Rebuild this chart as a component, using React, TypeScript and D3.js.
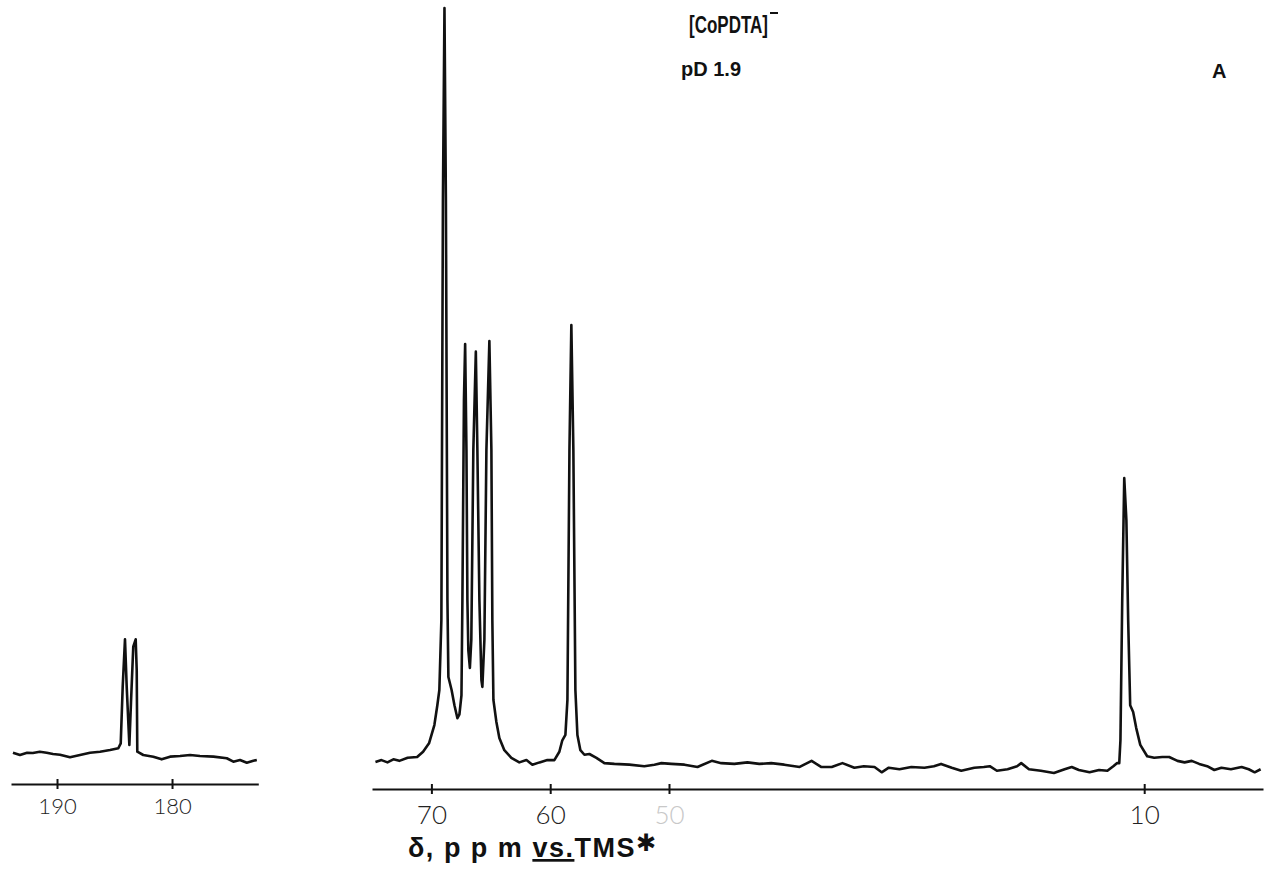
import React, { useEffect, useRef } from 'react';
import * as d3 from 'd3';

// carbonyl region (left inset), ppm vs TMS and relative intensity
const carbonylPpm = [
  193.83, 193.22, 192.6, 192.1, 191.5, 190.9, 190.35, 189.74, 188.87, 188.0, 187.13, 186.26,
  185.39, 184.67, 184.46, 184.29, 184.09, 183.94, 183.71, 183.57, 183.37, 183.16, 183.07,
  183.02, 182.5, 181.63, 180.9, 180.17, 179.3, 178.43, 177.57, 176.4, 175.24, 174.67, 174.09,
  173.5, 172.93, 172.63,
];
const carbonylIntensity = [
  2.27, 1.97, 2.27, 2.23, 2.4, 2.27, 2.1, 2.0, 1.67, 1.97, 2.27, 2.4,
  2.62, 2.85, 3.5, 10.9, 17.15, 10.9, 3.28, 8.8, 16.2, 17.15, 13.1,
  2.4, 1.97, 1.75, 1.4, 1.75, 1.84, 1.97, 1.84, 1.75, 1.54, 1.09,
  1.31, 0.96, 1.22, 1.31,
];

// aliphatic region (main trace)
const aliphaticPpm = [
  74.71, 74.2, 73.7, 73.2, 72.7, 72.0, 71.2, 70.7, 70.2, 69.75, 69.5, 69.33, 69.16, 69.03,
  68.9, 68.78, 68.65, 68.57, 68.3, 68.06, 67.81, 67.64, 67.47, 67.39, 67.26, 67.16, 67.05,
  66.97, 66.89, 66.76, 66.64, 66.47, 66.26, 66.13, 65.96, 65.79, 65.71, 65.54, 65.37, 65.12,
  64.95, 64.87, 64.78, 64.53, 64.28, 63.86, 63.27, 62.6, 62.0, 61.5, 60.9, 60.24, 59.65,
  59.23, 58.98, 58.72, 58.55, 58.38, 58.22, 58.05, 57.88, 57.71, 57.46, 57.12, 56.7, 56.11,
  55.44, 54.6, 53.34, 52.08, 51.23, 50.64, 49.8, 48.7, 47.6, 46.4, 45.6, 44.5, 43.4, 42.4,
  41.4, 40.3, 39.0, 38.0, 37.2, 36.3, 35.4, 34.4, 33.6, 32.7, 32.1, 31.5, 30.6, 29.6, 28.5,
  27.7, 27.1, 26.2, 25.4, 24.3, 23.5, 23.0, 22.4, 21.5, 20.7, 20.35, 19.7, 18.7, 17.6, 16.7,
  16.1, 15.5, 14.6, 13.8, 13.1, 12.6, 12.3, 12.1, 12.0, 11.85, 11.68, 11.5, 11.35, 11.18,
  10.93, 10.67, 10.33, 9.75, 9.16, 8.48, 7.9, 7.2, 6.6, 6.0, 5.37, 4.7, 4.1, 3.5, 2.7, 1.8,
  1.2, 0.7, 0.2,
];
const aliphaticIntensity = [
  1.05, 1.3, 1.0, 1.4, 1.2, 1.6, 1.7, 2.4, 3.5, 5.9, 8.5, 10.5, 19.7, 74.8,
  100, 74.8, 22.3, 12.2, 10.5, 8.5, 6.8, 7.3, 9.8, 22.3, 48.6, 55.9, 42.0,
  22.3, 15.7, 13.4, 17.1, 42.0, 54.9, 42.0, 22.3, 11.8, 10.9, 17.1, 42.0, 56.3,
  42.0, 19.7, 9.2, 6.3, 4.2, 2.6, 1.6, 1.0, 1.3, 0.7, 1.0, 1.3, 1.3,
  2.4, 3.9, 4.6, 9.2, 42.0, 58.4, 42.0, 10.5, 4.6, 2.6, 2.0, 2.1, 1.6,
  0.9, 0.8, 0.7, 0.5, 0.7, 0.9, 0.8, 0.7, 0.4, 1.2, 0.9, 0.8, 1.0, 0.8,
  0.9, 0.7, 0.4, 1.2, 0.4, 0.4, 0.9, 0.3, 0.5, 0.4, -0.3, 0.3, 0.1, 0.4, 0.3,
  0.5, 0.8, 0.3, -0.1, 0.3, 0.4, 0.5, -0.1, 0.1, 0.5, 0.9, 0.1, -0.1, -0.4, 0.1,
  0.4, 0.0, -0.3, 0.0, -0.1, 0.5, 0.9, 0.9, 3.9, 22.3, 38.3, 32.8, 19.7, 8.5,
  7.6, 5.5, 3.3, 1.8, 1.6, 1.7, 1.7, 1.2, 1.0, 1.2, 0.8, 0.5, 0.0, 0.3, 0.1, 0.4,
  0.1, -0.3, 0.1,
];

const carbonylTicks = [190, 180];
const aliphaticTicks = [70, 60, 50, 10];
const faintTicks = [50];

const W = 1270;
const H = 869;

export default function App() {
  const svgRef = useRef<SVGSVGElement>(null);

  useEffect(() => {
    if (!svgRef.current) return;
    const svg = d3.select(svgRef.current);
    svg.selectAll('*').remove();

    const y = d3.scaleLinear().domain([0, 100]).range([770, 8]);
    const xMain = d3.scaleLinear().domain([75, 0]).range([372, 1263]);
    const xCarb = d3.scaleLinear().domain([194, 172.5]).range([11, 258.3]);

    const line = (x: d3.ScaleLinear<number, number>) =>
      d3.line<[number, number]>()
        .x(d => x(d[0]))
        .y(d => y(d[1]));

    const carbData = carbonylPpm.map((p, i) => [p, carbonylIntensity[i]] as [number, number]);
    const mainData = aliphaticPpm.map((p, i) => [p, aliphaticIntensity[i]] as [number, number]);

    // traces
    [[carbData, xCarb], [mainData, xMain]].forEach(([data, x]: any) => {
      svg.append('path')
        .datum(data)
        .attr('fill', 'none')
        .attr('stroke', '#111')
        .attr('stroke-width', 2.6)
        .attr('stroke-linejoin', 'round')
        .attr('d', line(x));
    });

    // axes
    const drawAxis = (x: d3.ScaleLinear<number, number>, ticks: number[], yPos: number, size: number, pad: number) => {
      const g = svg.append('g')
        .attr('transform', `translate(0,${yPos})`)
        .call(d3.axisBottom(x).tickValues(ticks).tickSizeInner(4).tickSizeOuter(0).tickPadding(pad)
          .tickFormat(d => String(d)));
      g.select('.domain').attr('stroke', '#111').attr('stroke-width', 2);
      g.selectAll('.tick line').attr('stroke', '#111').attr('stroke-width', 2).attr('y1', -5).attr('y2', 5);
      g.selectAll<SVGTextElement, number>('.tick text')
        .attr('font-family', 'Lato, "DejaVu Sans", sans-serif')
        .attr('font-weight', 300)
        .attr('font-size', size)
        .attr('fill', d => (faintTicks.includes(d) ? '#c8c8c8' : '#222'));
    };
    drawAxis(xCarb, carbonylTicks, 784, 22, 10);
    drawAxis(xMain, aliphaticTicks, 789, 26, 13);
  }, []);

  return (
    <div style={{ position: 'absolute', left: 0, top: 0, background: '#fff' }}>
      <svg ref={svgRef} width={W} height={H} style={{ display: 'block' }} />
      <svg width={W} height={H} style={{ position: 'absolute', left: 0, top: 0 }}
        fontFamily='"Liberation Sans", Arial, sans-serif' fontWeight="bold" fill="#111">
        <text x={689} y={33} fontSize={24} textLength={79} lengthAdjust="spacingAndGlyphs">[CoPDTA]</text>
        <line x1={770} x2={778} y1={13} y2={13} stroke="#111" strokeWidth={2} />
        <text x={681} y={76} fontSize={20}>pD 1.9</text>
        <text x={1212} y={78} fontSize={20}>A</text>
        <text x={408} y={857} fontSize={27} letterSpacing={1.5}>
          δ, p p m <tspan textDecoration="underline">vs.</tspan>TMS<tspan fontSize={24} dy={-6} fontFamily='"DejaVu Sans", sans-serif'>✱</tspan>
        </text>
      </svg>
    </div>
  );
}
